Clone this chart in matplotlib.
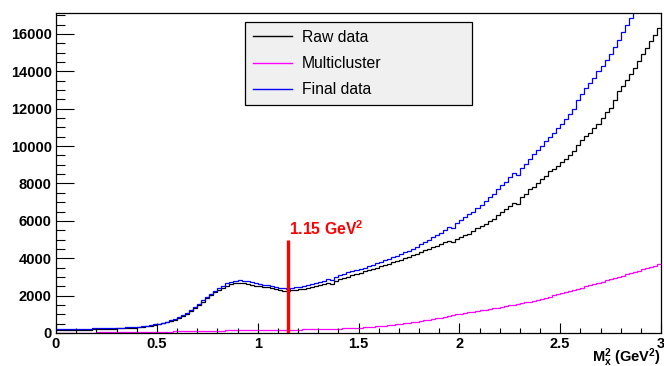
import numpy as np
import matplotlib
matplotlib.use("Agg")
import matplotlib.pyplot as plt
from matplotlib.ticker import MultipleLocator

plt.rcParams['font.family'] = ['Liberation Sans', 'DejaVu Sans']
plt.rcParams['mathtext.fontset'] = 'custom'
plt.rcParams['mathtext.rm'] = 'Liberation Sans:bold'
plt.rcParams['mathtext.it'] = 'Liberation Sans:bold'
plt.rcParams['mathtext.bf'] = 'Liberation Sans:bold'

# 150 bins of 0.02 GeV^2 from 0 to 3
edges = np.linspace(0, 3, 151)

raw_data = [
    160, 165, 170, 168, 172, 175, 178, 180, 185, 188,
    215, 220, 225, 230, 235, 242, 250, 258, 268, 280,
    310, 330, 355, 385, 420, 460, 510, 570, 640, 720,
    820, 920, 1040, 1180, 1330, 1500, 1680, 1850, 2010, 2170,
    2300, 2420, 2520, 2610, 2680, 2700, 2660, 2620, 2580, 2540,
    2500, 2440, 2460, 2400, 2350, 2310, 2270, 2250, 2290, 2320,
    2340, 2370, 2400, 2440, 2500, 2560, 2620, 2700, 2640, 2800,
    2880, 2950, 3020, 3100, 3150, 3200, 3300, 3380, 3430, 3500,
    3560, 3620, 3700, 3780, 3850, 3920, 4000, 4080, 4150, 4230,
    4330, 4420, 4500, 4600, 4680, 4750, 4850, 4920, 4850, 5050,
    5130, 5220, 5320, 5450, 5600, 5720, 5850, 6000, 6120, 6300,
    6450, 6620, 6820, 6980, 6900, 7250, 7450, 7680, 7820, 8020,
    8230, 8400, 8650, 8800, 8950, 9150, 9300, 9500, 9750, 10050,
    10300, 10550, 10700, 10950, 11200, 11500, 11800, 12050, 12450, 12950,
    13200, 13550, 13850, 14200, 14550, 14900, 15250, 15600, 15950, 16300,
]

multicluster = [
    10, 12, 14, 15, 17, 18, 20, 22, 24, 26,
    28, 30, 32, 34, 36, 38, 40, 42, 45, 48,
    50, 53, 56, 60, 63, 66, 70, 74, 78, 82,
    86, 90, 95, 100, 104, 108, 112, 116, 120, 124,
    128, 132, 135, 138, 141, 144, 147, 150, 152, 155,
    158, 160, 163, 166, 168, 170, 173, 176, 180, 183,
    186, 190, 194, 198, 202, 207, 212, 218, 224, 230,
    238, 246, 255, 265, 276, 288, 300, 315, 330, 348,
    368, 390, 412, 436, 460, 486, 512, 540, 570, 600,
    635, 670, 705, 745, 785, 825, 870, 915, 960, 1005,
    1040, 1075, 1110, 1145, 1180, 1215, 1250, 1285, 1320, 1360,
    1400, 1440, 1480, 1520, 1560, 1600, 1640, 1680, 1720, 1770,
    1830, 1890, 1950, 2010, 2070, 2130, 2190, 2250, 2310, 2370,
    2430, 2490, 2560, 2620, 2690, 2750, 2820, 2880, 2950, 3010,
    3070, 3140, 3200, 3270, 3340, 3400, 3470, 3540, 3610, 3680,
]

final_data = [
    210, 215, 218, 222, 225, 228, 232, 236, 240, 245,
    250, 255, 262, 268, 275, 282, 290, 300, 312, 328,
    345, 365, 390, 420, 455, 495, 545, 605, 675, 760,
    860, 970, 1090, 1230, 1380, 1550, 1740, 1920, 2080, 2250,
    2400, 2530, 2650, 2740, 2800, 2840, 2800, 2760, 2720, 2680,
    2640, 2570, 2590, 2530, 2470, 2430, 2400, 2380, 2420, 2440,
    2470, 2510, 2550, 2600, 2650, 2720, 2800, 2900, 2830, 3010,
    3100, 3180, 3260, 3340, 3380, 3430, 3500, 3570, 3640, 3720,
    3800, 3900, 3980, 4060, 4140, 4220, 4310, 4400, 4500, 4620,
    4750, 4880, 5000, 5130, 5250, 5350, 5500, 5650, 5600, 5900,
    6050, 6180, 6350, 6500, 6680, 6850, 7050, 7250, 7450, 7700,
    7900, 8100, 8330, 8550, 8450, 8850, 9050, 9300, 9550, 9800,
    10000, 10250, 10480, 10700, 10950, 11200, 11450, 11700, 12000, 12450,
    12800, 13100, 13400, 13650, 14000, 14300, 14600, 14950, 15300, 15700,
    16100, 16500, 16850, 17250, 17650, 18050, 18450, 18850, 19250, 19650,
]

cut_value = 1.15
cut_height = 5000
y_max = 17120

fig = plt.figure(figsize=(6.64, 3.66), dpi=100)
ax = fig.add_axes([56 / 664, 33 / 366, 605 / 664, 320 / 366])

ax.stairs(raw_data, edges, baseline=None, color='black', lw=0.9, label='Raw data')
ax.stairs(multicluster, edges, baseline=None, color='#ff00ff', lw=0.9, label='Multicluster')
ax.stairs(final_data, edges, baseline=None, color='#0000ff', lw=0.9, label='Final data')

ax.vlines(cut_value, 0, cut_height, color='#ff0000', lw=2.4, zorder=5)
ax.text(cut_value + 0.005, cut_height + 250, r'1.15 GeV$^{2}$', color='#ff0000',
        fontsize=11.3, fontweight='bold', ha='left', va='baseline')

ax.set_xlim(0, 3)
ax.set_ylim(0, y_max)

ax.xaxis.set_minor_locator(MultipleLocator(0.1))
ax.yaxis.set_major_locator(MultipleLocator(2000))
ax.yaxis.set_minor_locator(MultipleLocator(500))
ax.set_xticks([0, 0.5, 1, 1.5, 2, 2.5, 3])
ax.set_xticklabels(['0', '0.5', '1', '1.5', '2', '2.5', '3'])

ax.tick_params(axis='both', which='both', direction='in', labelsize=10.5, pad=3)
ax.tick_params(axis='x', which='major', length=7.2, width=0.8)
ax.tick_params(axis='x', which='minor', length=3.6, width=0.8)
ax.tick_params(axis='y', which='major', length=13, width=0.8)
ax.tick_params(axis='y', which='minor', length=6.5, width=0.8)
for lab in ax.get_xticklabels() + ax.get_yticklabels():
    lab.set_fontweight('bold')
for sp in ax.spines.values():
    sp.set_linewidth(0.9)

fig.text(661 / 664, 1 - 362 / 366, r'M$_{x}^{2}$ (GeV$^{2}$)', fontsize=10.5,
         fontweight='bold', ha='right', va='baseline')

leg = ax.legend(loc='upper left',
                bbox_to_anchor=(245 / 664, 1 - 101 / 366, 227 / 664, 79 / 366),
                bbox_transform=fig.transFigure, mode='expand', borderaxespad=0,
                fontsize=11.3, handlelength=2.5, handletextpad=0.6, labelspacing=0.72,
                borderpad=0.5, fancybox=False, framealpha=1, facecolor='#f0f0f0',
                edgecolor='black')
leg.get_frame().set_linewidth(0.9)
for h in leg.legend_handles:
    h.set_linewidth(1.0)

fig.savefig('out.png', dpi=100)
